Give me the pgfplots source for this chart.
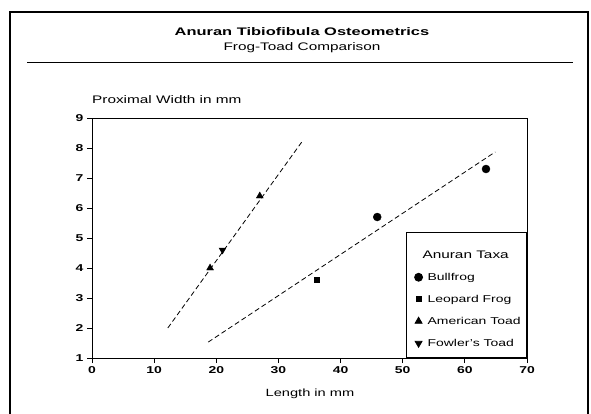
\documentclass[border=0pt]{standalone}
\usepackage{fontspec}
\setmainfont{Liberation Sans}[FakeStretch=1.4]
\newfontfamily\titlefont{Liberation Sans}[FakeStretch=1.5]
\usepackage{pgfplots}
\pgfplotsset{compat=1.18}
\begin{document}
\begin{tikzpicture}[x=1bp,y=1bp]
\path[use as bounding box] (0,0) rectangle (591,413);
\draw[line width=1.5bp] (10,-5) -- (10,401) -- (588,401) -- (588,-5);
\draw[line width=0.8bp] (27,351) -- (573,351);
\node[font=\titlefont\fontsize{11}{13}\selectfont\bfseries] at (302,381) {Anuran Tibiofibula Osteometrics};
\node[font=\fontsize{11}{13}\selectfont] at (302,365) {Frog-Toad Comparison};
\node[font=\fontsize{11}{13}\selectfont, anchor=west, inner sep=0pt] at (92,313) {Proximal Width in mm};
\node[font=\fontsize{10.5}{12}\selectfont] at (310,19) {Length in mm};
\begin{axis}[
  at={(92bp,55bp)}, anchor=south west, scale only axis,
  width=435bp, height=240bp,
  xmin=0, xmax=70, ymin=1, ymax=9,
  xtick={0,10,...,70}, ytick={1,2,...,9},
  tick align=outside, xtick pos=bottom, ytick pos=left,
  major tick length=5bp,
  tick style={black, line width=0.8bp},
  axis line style={line width=0.8bp},
  ticklabel style={font=\fontsize{10}{12}\selectfont\bfseries},
  /pgf/number format/assume math mode=true,
  legend cell align=left,
  legend style={at={(1,0)}, anchor=south east, draw=black, line width=0.8bp,
    font=\fontsize{10}{12}\selectfont, row sep=9.3bp, column sep=3bp,
    inner xsep=4bp, inner ysep=8bp},
]
\addlegendimage{empty legend}
\addlegendentry{\hspace{-5bp}\fontsize{11}{13}\selectfont\rule{0pt}{16bp}Anuran Taxa}
\addplot[only marks, mark=*, mark size=4bp, black] coordinates {(45.9,5.7) (63.4,7.3)};
\addlegendentry{Bullfrog}
\addplot[only marks, mark=square*, mark size=2.5bp, black] coordinates {(36.1,3.6)};
\addlegendentry{Leopard Frog}
\addplot[only marks, mark=triangle*, mark size=4bp, black] coordinates {(19,4.0) (27,6.4)};
\addlegendentry{American Toad}
\addplot[only marks, mark=triangle*, mark size=4bp, mark options={rotate=180}, black] coordinates {(21,4.6)};
\addlegendentry{Fowler's Toad}
\addplot[forget plot, black, line width=0.8bp, dash pattern=on 5bp off 3bp] coordinates {(12.2,2.0) (34.0,8.27)};
\addplot[forget plot, black, line width=0.8bp, dash pattern=on 5bp off 3bp] coordinates {(18.7,1.53) (64.9,7.87)};
\end{axis}
\end{tikzpicture}
\end{document}
